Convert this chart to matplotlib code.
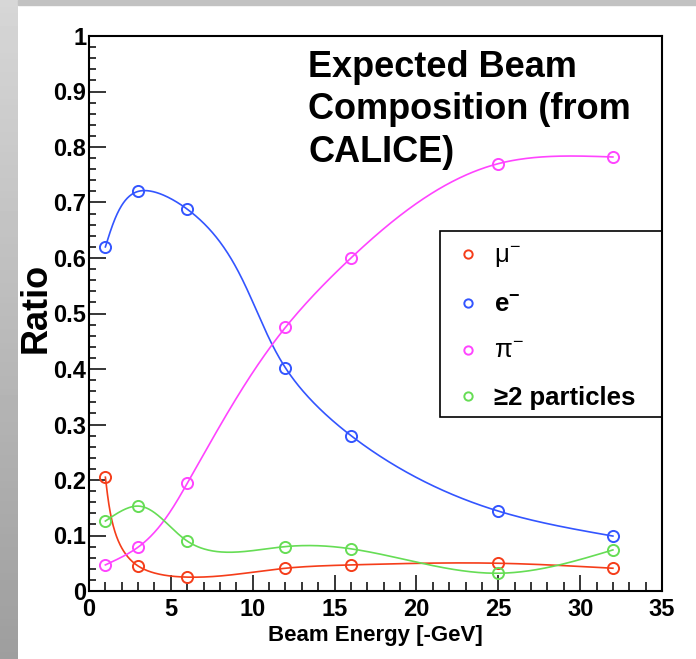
import matplotlib
matplotlib.use('Agg')
import matplotlib.pyplot as plt
import numpy as np
from matplotlib.lines import Line2D
from matplotlib.patches import Rectangle

# beam energies and measured ratios
energy = [1, 3, 6, 12, 16, 25, 32]
mu = [0.205, 0.045, 0.025, 0.041, 0.047, 0.050, 0.041]
ele = [0.620, 0.720, 0.688, 0.402, 0.280, 0.144, 0.099]
pion = [0.047, 0.079, 0.194, 0.475, 0.600, 0.770, 0.782]
multi = [0.126, 0.153, 0.090, 0.080, 0.076, 0.032, 0.074]

names = ['$\\mathregular{\\mu^{-}}$', 'e$^{\\mathregular{-}}$',
         '$\\mathregular{\\pi^{-}}$', '\u22652 particles']
colors = ['#f53d1a', '#3355ff', '#ff44ff', '#66dd55']

plt.rcParams['font.family'] = ['Liberation Sans', 'DejaVu Sans']
plt.rcParams['mathtext.fontset'] = 'custom'
plt.rcParams['mathtext.rm'] = 'Liberation Sans'
plt.rcParams['mathtext.it'] = 'Liberation Sans'


def natural_spline(t, v, tt):
    n = len(t)
    h = np.diff(t)
    A = np.zeros((n, n))
    r = np.zeros(n)
    A[0, 0] = A[-1, -1] = 1
    for i in range(1, n - 1):
        A[i, i - 1] = h[i - 1]
        A[i, i] = 2 * (h[i - 1] + h[i])
        A[i, i + 1] = h[i]
        r[i] = 6 * ((v[i + 1] - v[i]) / h[i] - (v[i] - v[i - 1]) / h[i - 1])
    M = np.linalg.solve(A, r)
    k = np.clip(np.searchsorted(t, tt) - 1, 0, n - 2)
    a = t[k + 1] - tt
    b = tt - t[k]
    return (M[k] * a**3 / (6 * h[k]) + M[k + 1] * b**3 / (6 * h[k])
            + (v[k] / h[k] - M[k] * h[k] / 6) * a
            + (v[k + 1] / h[k] - M[k + 1] * h[k] / 6) * b)


def smooth(x, y):
    # parametric spline in roughly screen units, like ROOT's "C" option
    x = np.asarray(x, float)
    y = np.asarray(y, float)
    px, py = x / 35 * 573, y * 555
    t = np.r_[0, np.cumsum(np.hypot(np.diff(px), np.diff(py)))]
    tt = np.linspace(0, t[-1], 600)
    return natural_spline(t, x, tt), natural_spline(t, y, tt)


fig = plt.figure(figsize=(6.96, 6.59), dpi=100)
fig.patch.set_facecolor('white')

# grey slide border
side = fig.add_axes([0, 0, 18 / 696, 1])
side.imshow(np.linspace(0.84, 0.62, 100)[:, None], cmap='gray', vmin=0, vmax=1,
            aspect='auto', extent=(0, 1, 0, 1))
side.axis('off')
fig.patches.append(Rectangle((18 / 696, 1 - 5 / 659), 1, 5 / 659,
                             transform=fig.transFigure, color='#c2c2c2', zorder=0))

ax = fig.add_axes([89 / 696, 68 / 659, 573 / 696, 555 / 659])

series = [mu, ele, pion, multi]
handles = []
for vals, c in zip(series, colors):
    sx, sy = smooth(energy, vals)
    ax.plot(sx, sy, color=c, lw=1.2)
    ax.plot(energy, vals, ls='none', marker='o', ms=8, mfc='none', mec=c, mew=1.4)
    handles.append(Line2D([], [], ls='none', marker='o', ms=6, mfc='none', mec=c, mew=1.4))

ax.set_xlim(0, 35)
ax.set_ylim(0, 1)
ax.set_xticks(np.arange(0, 36, 5))
ax.set_xticks(np.arange(0, 36, 1), minor=True)
ax.set_yticks(np.arange(0, 1.01, 0.1))
ax.set_yticks(np.arange(0, 1.001, 0.02), minor=True)
ax.set_yticklabels(['0', '0.1', '0.2', '0.3', '0.4', '0.5', '0.6', '0.7', '0.8', '0.9', '1'])
ax.tick_params(axis='x', which='major', direction='in', length=11.5, width=1.1, pad=5,
               top=False)
ax.tick_params(axis='x', which='minor', direction='in', length=6.5, width=1.1, top=False)
ax.tick_params(axis='y', which='major', direction='in', length=12, width=1.1, pad=2,
               right=False)
ax.tick_params(axis='y', which='minor', direction='in', length=5, width=1.1, right=False)
for lab in ax.get_xticklabels() + ax.get_yticklabels():
    lab.set_fontweight('bold')
    lab.set_fontsize(17)
for s in ax.spines.values():
    s.set_linewidth(1.5)

ax.set_xlabel('Beam Energy [-GeV]', fontweight='bold', fontsize=16)
ax.xaxis.set_label_coords(0.5, -0.062)
ax.set_ylabel('Ratio', fontweight='bold', fontsize=26)
ax.yaxis.set_label_coords(-0.062, 0.51)

fig.text(308 / 696, 1 - 50 / 659, 'Expected Beam\nComposition (from\nCALICE)',
         fontsize=26, fontweight='bold', va='top', ha='left', linespacing=1.27)

# legend box
ax.add_patch(Rectangle(((440 - 89) / 573, (591 - 417) / 555), (662 - 440) / 573,
                       (417 - 231) / 555, transform=ax.transAxes, fill=False,
                       ec='black', lw=1.2, zorder=5))
leg = ax.legend(handles, names, loc='upper left',
                bbox_to_anchor=((445 - 89) / 573, (591 - 234) / 555),
                frameon=False, fontsize=18.5, labelspacing=0.88, handlelength=1.0,
                handletextpad=0.5, borderaxespad=0)
for i, txt in enumerate(leg.get_texts()):
    if i in (1, 3):
        txt.set_fontweight('bold')

fig.savefig('out.png', dpi=100)
